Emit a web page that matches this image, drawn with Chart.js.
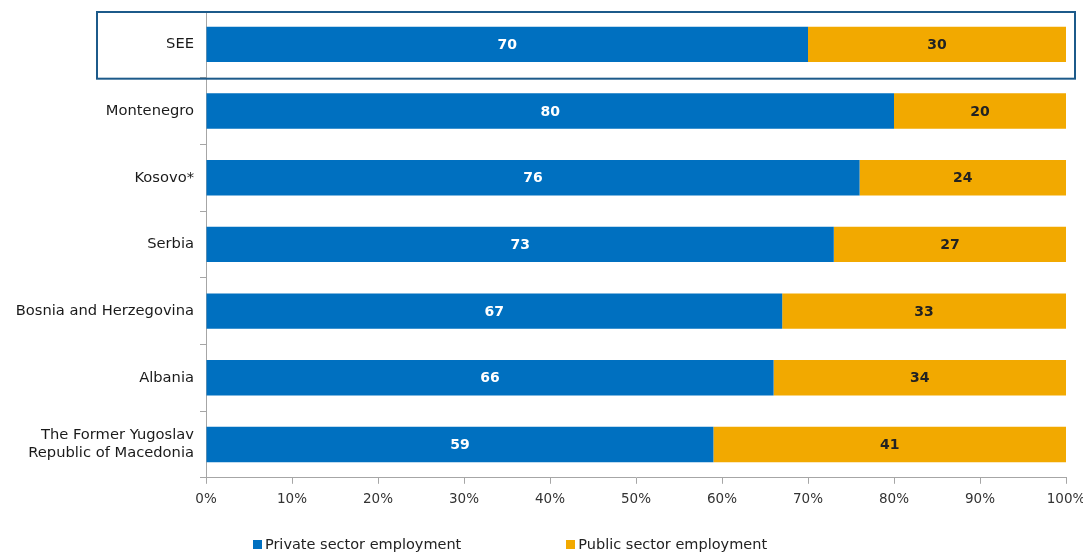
<!DOCTYPE html>
<html>
<head>
<meta charset="utf-8">
<script src="https://cdn.jsdelivr.net/npm/chart.js@4/dist/chart.umd.min.js"></script>
<style>
  html, body { margin: 0; padding: 0; background: #fff; }
  #wrap { position: relative; width: 1083px; height: 557px; }
  #legend {
    position: absolute; left: 0; top: 536px; width: 1020px;
    display: flex; justify-content: center; gap: 105px;
    font-family: 'DejaVu Sans', sans-serif; font-size: 14.5px; color: #222;
  }
  #legend span.box { display: inline-block; width: 9px; height: 9px; margin-right: 3px; vertical-align: 0px; }
</style>
</head>
<body>
<div id="wrap">
  <canvas id="employmentChart" width="1083" height="557"></canvas>
  <div id="legend"></div>
</div>
<script>
// 国・地域ごとの民間/公共部門の雇用構成 (%)
const regions = [
    'SEE',
    'Montenegro',
    'Kosovo*',
    'Serbia',
    'Bosnia and Herzegovina',
    'Albania',
    ['The Former Yugoslav', 'Republic of Macedonia']
];
const privateShare = [70, 80, 76, 73, 67, 66, 59];
const publicShare = [30, 20, 24, 27, 33, 34, 41];
const seriesNames = ['Private sector employment', 'Public sector employment'];
const xTicks = [0, 10, 20, 30, 40, 50, 60, 70, 80, 90, 100];

const colors = ['#0070c0', '#f2a900'];
const labelColors = ['#ffffff', '#222222'];
const fontFamily = "'DejaVu Sans', sans-serif";

// バー中央に値を描画
const barValueLabels = {
    id: 'barValueLabels',
    afterDatasetsDraw(chart) {
        const ctx = chart.ctx;
        ctx.save();
        ctx.font = 'bold 14px ' + fontFamily;
        ctx.textAlign = 'center';
        ctx.textBaseline = 'middle';
        chart.data.datasets.forEach((ds, di) => {
            const meta = chart.getDatasetMeta(di);
            meta.data.forEach((bar, i) => {
                const p = bar.getProps(['x', 'y', 'base'], true);
                ctx.fillStyle = labelColors[di];
                ctx.fillText(ds.data[i], (p.x + p.base) / 2, p.y + 1);
            });
        });
        ctx.restore();
    }
};

// SEE行を枠で囲む
const highlightRow = {
    id: 'highlightRow',
    afterDraw(chart) {
        const y = chart.scales.y;
        const ctx = chart.ctx;
        const center = y.getPixelForValue(0);
        const half = (y.getPixelForValue(1) - center) / 2;
        ctx.save();
        ctx.strokeStyle = '#1c5a8a';
        ctx.lineWidth = 2;
        ctx.strokeRect(97, center - half + 1, 978, half * 2);
        ctx.restore();
    }
};

const ctx = document.getElementById('employmentChart').getContext('2d');
const employmentChart = new Chart(ctx, {
    type: 'bar',
    data: {
        labels: regions,
        datasets: seriesNames.map((name, i) => ({
            label: name,
            data: i === 0 ? privateShare : publicShare,
            backgroundColor: colors[i],
            barPercentage: 0.53,
            categoryPercentage: 1
        }))
    },
    options: {
        indexAxis: 'y',
        responsive: false,
        animation: false,
        layout: { padding: { top: 11, right: 17, bottom: 41, left: 0 } },
        plugins: {
            legend: { display: false },
            tooltip: { enabled: false }
        },
        scales: {
            x: {
                stacked: true,
                min: 0,
                max: 100,
                afterBuildTicks: scale => {
                    scale.ticks = xTicks.map(v => ({ value: v }));
                },
                afterFit: scale => {
                    scale.paddingLeft = 0;
                    scale.paddingRight = 0;
                },
                border: { color: '#a6a6a6' },
                grid: { drawOnChartArea: false, drawTicks: true, tickLength: 6, color: '#a6a6a6' },
                ticks: {
                    callback: v => v + '%',
                    color: '#333',
                    padding: 8,
                    maxRotation: 0,
                    font: { family: fontFamily, size: 13.5 }
                }
            },
            y: {
                stacked: true,
                offset: true,
                afterFit: scale => {
                    scale.width = 206;
                    scale.paddingTop = 0;
                    scale.paddingBottom = 0;
                },
                border: { color: '#a6a6a6' },
                grid: { offset: true, drawOnChartArea: false, drawTicks: true, tickLength: 6, color: '#a6a6a6' },
                ticks: {
                    color: '#1a1a1a',
                    padding: 6,
                    font: { family: fontFamily, size: 14.7 }
                }
            }
        }
    },
    plugins: [barValueLabels, highlightRow]
});

// 凡例
const legendEl = document.getElementById('legend');
employmentChart.data.datasets.forEach((ds, i) => {
    const item = document.createElement('div');
    item.innerHTML = '<span class="box" style="background:' + colors[i] + '"></span>' + ds.label;
    legendEl.appendChild(item);
});
</script>
</body>
</html>
